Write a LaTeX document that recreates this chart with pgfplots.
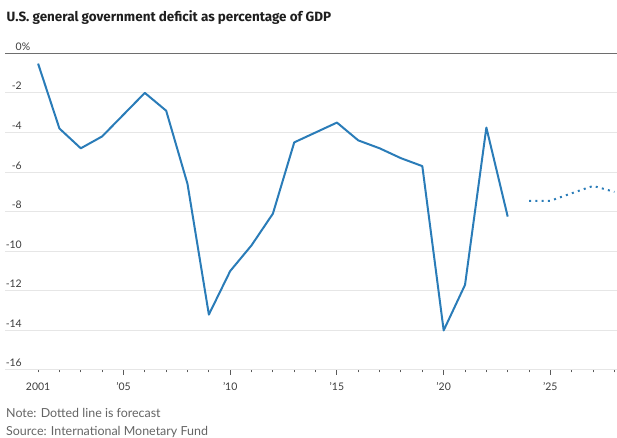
\documentclass[border=0pt]{standalone}
\usepackage{fontspec}
\setmainfont{Lato}
\newfontfamily\titlefont{Fira Sans}
\usepackage{pgfplots}
\pgfplotsset{compat=1.18}
\definecolor{lineblue}{RGB}{42,124,184}
\definecolor{gridgray}{RGB}{230,230,230}
\definecolor{zerogray}{RGB}{110,110,110}
\definecolor{tickgray}{RGB}{90,90,90}
\definecolor{labelcol}{RGB}{60,60,60}
\definecolor{titlecol}{RGB}{30,30,30}
\definecolor{notecol}{RGB}{100,100,100}
\begin{document}
\begin{tikzpicture}
\useasboundingbox (0bp,0bp) rectangle (617bp,438bp);
\node[anchor=base west, font=\titlefont\fontsize{13.5}{15}\selectfont\bfseries, text=titlecol, inner sep=0pt] at (6.5bp,416.3bp) {U.S. general government deficit as percentage of GDP};
\begin{axis}[
  at={(5bp,68bp)}, anchor=south west, scale only axis,
  width=612bp, height=316.7bp,
  xmin=1999.45, xmax=2028.12, ymin=-16, ymax=0,
  clip=false,
  axis line style={draw=none},
  ytick={-16,-14,...,-2},
  yticklabels={-16,-14,-12,-10,-8,-6,-4,-2},
  ymajorgrids,
  grid style={draw=gridgray, line width=1bp},
  extra y ticks={0},
  extra y tick labels={0\rlap{\%}},
  extra y tick style={grid style={draw=zerogray, line width=1.3bp}},
  ytick style={draw=none},
  xtick={2001,...,2028},
  xticklabels={2001,,,,’05,,,,,’10,,,,,’15,,,,,’20,,,,,’25,,,},
  extra x ticks={2005,2010,2015,2020,2025},
  extra x tick labels={},
  extra x tick style={major tick length=5bp},
  xtick style={draw=tickgray, line width=0.9bp},
  tick align=outside,
  xtick pos=lower,
  major tick length=2.5bp,
  ticklabel style={font=\fontsize{10.5}{12}\selectfont, text=labelcol},
  yticklabel style={anchor=base east, inner sep=0pt, xshift=19.5bp, yshift=3bp},
  xticklabel style={anchor=base, inner sep=0pt, yshift=-17.5bp},
]
\addplot[lineblue, line width=2bp, line join=round] coordinates {
(2001,-0.52) (2002,-3.8) (2003,-4.8) (2004,-4.2) (2005,-3.1) (2006,-2.0)
(2007,-2.9) (2008,-6.6) (2009,-13.2) (2010,-11.0) (2011,-9.7) (2012,-8.1)
(2013,-4.5) (2014,-4.0) (2015,-3.5) (2016,-4.4) (2017,-4.8) (2018,-5.3)
(2019,-5.7) (2020,-14.0) (2021,-11.7) (2022,-3.75) (2023,-8.25)};
\addplot[lineblue, line width=2bp, dash pattern=on 2bp off 4.3bp] coordinates {
(2024,-7.45) (2025,-7.45) (2026,-7.07) (2027,-6.7) (2028,-7.0)};
\end{axis}
\node[anchor=base west, font=\fontsize{12.5}{14}\selectfont, text=notecol, inner sep=0pt] at (6bp,20.3bp) {Note: Dotted line is forecast};
\node[anchor=base west, font=\fontsize{12.5}{14}\selectfont, text=notecol, inner sep=0pt] at (6bp,3bp) {Source: International Monetary Fund};
\end{tikzpicture}
\end{document}
